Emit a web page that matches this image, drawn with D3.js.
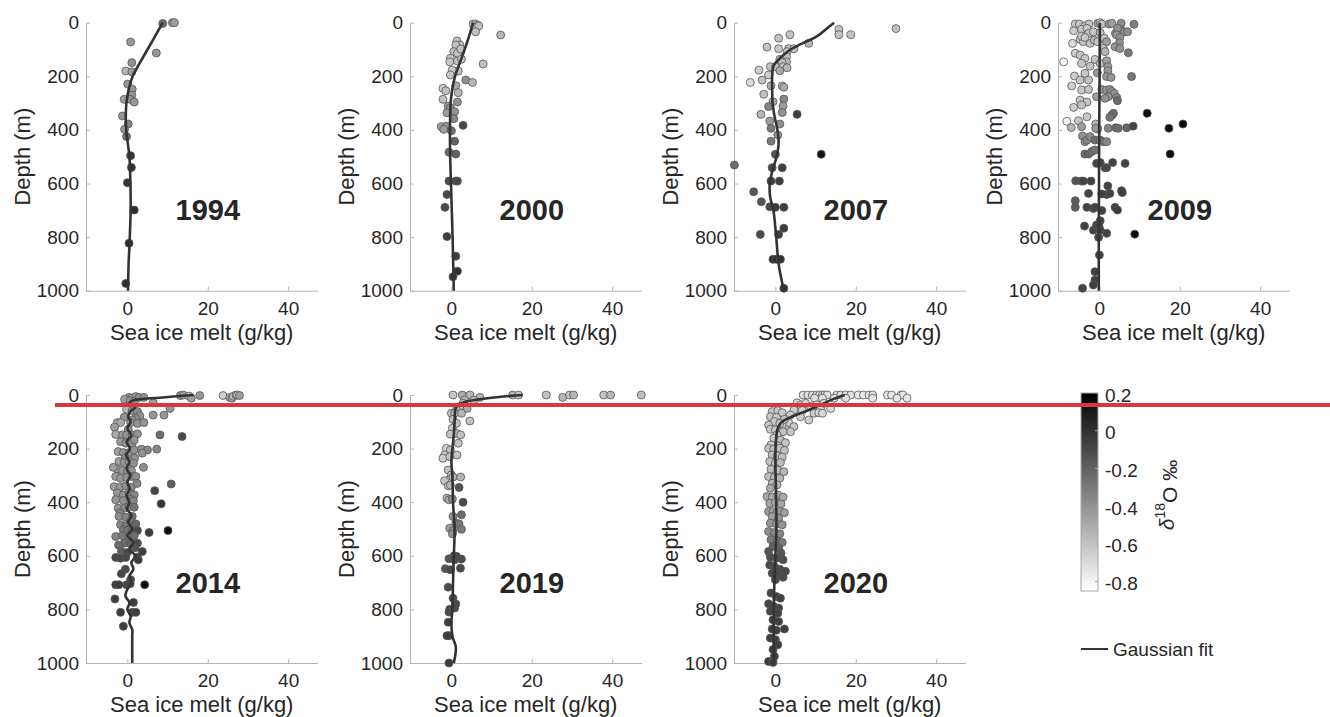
<!DOCTYPE html>
<html>
<head>
<meta charset="utf-8">
<script src="https://cdn.jsdelivr.net/npm/d3@7"></script>
<style>
  html, body { margin: 0; padding: 0; background: #fff; }
  svg { display: block; }
  text { font-family: "Liberation Sans", Arial, Helvetica, sans-serif; fill: #262626; }
</style>
</head>
<body>
<svg id="chart" width="1330" height="717"></svg>
<script>
// ---------------- DATA ----------------
const years = ["1994", "2000", "2007", "2009", "2014", "2019", "2020"];
const xTicks = [0, 20, 40];
const yTicks = [0, 200, 400, 600, 800, 1000];
const cbarTicks = [0.2, 0, -0.2, -0.4, -0.6, -0.8];
const xDomain = [-10.3, 47.3];
const yDomain = [0, 1000];
const cDomain = [-0.85, 0.2];
const redLineDepth = 37;
const xLabel = "Sea ice melt (g/kg)";
const yLabel = "Depth (m)";
const legendLabel = "Gaussian fit";

// points: [sea ice melt (g/kg), depth (m), d18O (permil)]
const pts1994 = [[8.8,3,-0.25],[11.2,0,-0.45],[11.7,0,-0.45],
[0.8,72,-0.42],[7.2,113,-0.42],[1.1,149,-0.4],[-0.4,180,-0.55],[1.1,183,-0.45],
[0.1,229,-0.42],[1.2,248,-0.42],[1.1,270,-0.42],[-0.8,286,-0.45],[0.7,286,-0.4],[1.7,296,-0.42],
[-1.2,348,-0.42],[0.2,378,-0.35],[-0.7,398,-0.42],[-0.2,425,-0.25],
[0.8,496,-0.02],[1.0,540,0.0],[0.0,597,0.0],[1.7,699,0.02],[0.4,823,0.02],[-0.4,973,0.02]];
const fit1994 = [[8.8,0],[6.9,50],[5.0,100],[3.1,150],[1.3,200],[0.3,250],[-0.25,300],[-0.4,350],[-0.3,400],[0.1,450],[0.5,500],[0.75,600],[0.8,700],[0.6,800],[0.3,900],[0.15,1000]];

const pts2000 = [[5.4,5,-0.6],[6.0,5,-0.6],[6.5,9,-0.6],[6.25,17,-0.6],[6.8,12,-0.6],[6.0,34,-0.6],
[12.25,46,-0.55],[1.4,68,-0.6],[2.1,83,-0.6],[1.1,83,-0.6],[0.6,108,-0.6],[1.5,114,-0.6],[2.3,98,-0.6],
[-0.25,133,-0.62],[-0.4,146,-0.62],[1.5,143,-0.6],[2.5,136,-0.6],[7.9,154,-0.6],[1.7,180,-0.6],[0.2,177,-0.62],[-0.25,195,-0.62],
[3.6,214,-0.4],[5.25,223,-0.55],[1.1,235,-0.5],[-2.1,245,-0.65],[-1.4,254,-0.6],[1.7,261,-0.55],
[-2.1,286,-0.6],[1.5,296,-0.4],[-0.8,311,-0.45],[-0.25,317,-0.4],[0.8,332,-0.4],[-1.1,336,-0.45],[0.6,358,-0.35],
[2.9,383,-0.1],[-2.5,388,-0.45],[-1.25,386,-0.4],[-1.9,398,-0.45],[0,403,-0.25],
[0.8,442,-0.2],[-0.6,483,-0.25],[1.1,490,-0.2],
[-0.6,591,-0.1],[1.1,591,-0.1],[1.5,591,-0.1],[-1.1,641,-0.1],[-1.6,689,-0.1],[-1.1,798,-0.05],[1.1,871,-0.05],[1.5,927,0.0],[0.4,948,-0.02]];
const fit2000 = [[5.4,0],[4.4,50],[3.3,100],[2.1,150],[0.9,200],[0.2,250],[-0.2,300],[-0.35,400],[-0.3,500],[-0.1,600],[0.1,700],[0.3,800],[0.45,900],[0.6,1000]];

const pts2007 = [[15.8,25,-0.6],[15.8,45,-0.6],[18.75,45,-0.6],[30,22,-0.6],[3.6,45,-0.6],[0.8,58,-0.6],[8.3,77,-0.55],
[-2.1,91,-0.6],[0.8,97,-0.62],[3.3,97,-0.6],[4.6,97,-0.6],[2.9,108,-0.6],[2.75,127,-0.6],[1.1,137,-0.55],[2.75,146,-0.55],[1.7,149,-0.6],
[-1.25,164,-0.6],[0,164,-0.6],[1.9,164,-0.6],[2.9,168,-0.55],[-4.1,177,-0.65],[1.1,179,-0.5],[-1.7,195,-0.65],[-3.3,214,-0.6],[-6.25,223,-0.7],
[-1.1,235,-0.5],[1.7,236,-0.6],[2.1,241,-0.5],[-2.9,267,-0.6],[2.1,285,-0.35],[-0.6,295,-0.5],[-1.7,313,-0.35],[1.9,311,-0.45],[1.7,335,-0.4],[-3.6,342,-0.55],[5.4,342,-0.05],
[-1.4,367,-0.45],[1.1,378,-0.4],[-1.1,394,-0.3],[0.6,419,-0.4],[-1.1,442,-0.3],
[11.4,491,0.12],[0,491,-0.15],[-10.2,531,-0.25],[-0.8,541,-0.1],[1.7,541,-0.05],[-1.1,591,-0.05],[1.0,591,-0.05],
[-5.4,631,-0.15],[-3.5,668,-0.15],[-1.4,687,-0.1],[0,689,-0.05],[2.1,689,-0.05],[2.1,767,-0.05],[0.8,790,-0.05],[-3.75,790,-0.1],
[-0.6,883,0.0],[0.25,883,0.0],[1.25,883,0.0],[2.1,991,0.0]];
const fit2007 = [[14.6,0],[12.5,25],[10.4,50],[6.3,80],[3.8,100],[1.3,130],[-0.4,160],[-0.8,200],[-0.8,250],[-0.7,300],[-0.2,350],[0.5,400],[0.8,450],[0.3,500],[-0.7,550],[-1.4,600],[-1.3,650],[-0.5,700],[0.2,800],[0.8,900],[2.1,1000]];

const pts2009 = [[-6.0,5,-0.62],[-5.0,5,-0.62],[-3.6,12,-0.62],[-2.6,5,-0.62],[-0.4,2,-0.45],[0.2,0,-0.62],[0.6,5,-0.6],[2.4,5,-0.4],[3.1,2,-0.45],[5.4,2,-0.38],[8.6,6,-0.32],
[-6.4,30,-0.65],[-4.4,25,-0.62],[-3.1,21,-0.62],[-2.7,40,-0.6],[-1.5,34,-0.62],[0.2,37,-0.6],[4.0,40,-0.4],[5.5,30,-0.4],[6.2,34,-0.4],[7.0,34,-0.38],[4.5,21,-0.4],
[-6.7,77,-0.7],[-4.8,62,-0.62],[-4.0,71,-0.6],[-4.4,50,-0.62],[-3.6,55,-0.62],[-2.3,77,-0.6],[-1.3,65,-0.55],[-0.4,71,-0.62],[1.2,58,-0.6],[1.8,71,-0.45],[4.3,46,-0.42],[5.1,55,-0.4],[5.0,75,-0.4],[3.9,90,-0.4],[5.1,96,-0.4],[1.0,96,-0.6],[1.4,108,-0.55],[7.2,112,-0.3],
[-8.9,146,-0.82],[-6.0,114,-0.65],[-4.8,121,-0.62],[-3.6,133,-0.62],[-4.4,152,-0.62],[-2.3,162,-0.6],[-1.1,137,-0.6],[0.2,152,-0.6],[1.8,142,-0.45],[2.1,164,-0.45],[2.1,179,-0.42],[1.8,201,-0.42],[-0.5,187,-0.42],[-3.6,189,-0.62],[-6.2,199,-0.65],[-4.8,214,-0.62],[-2.7,214,-0.6],
[-6.9,236,-0.65],[-4.4,251,-0.62],[-2.7,249,-0.6],[-4.8,289,-0.62],[-3.1,296,-0.6],[-6.4,316,-0.65],[-4.4,307,-0.6],[-0.7,276,-0.45],[0.6,249,-0.42],[1.8,251,-0.42],[2.6,249,-0.42],[3.1,257,-0.4],[3.7,264,-0.4],[4.3,279,-0.35],[4.5,291,-0.25],[2.2,276,-0.4],[1.4,282,-0.4],[2.9,204,-0.42],[8.0,201,-0.28],
[-8.1,368,-0.8],[-7.0,391,-0.55],[-5.2,366,-0.62],[-4.4,388,-0.45],[-3.1,351,-0.62],[-0.9,378,-0.55],[-0.4,396,-0.42],[-0.9,394,-0.42],[3.1,345,-0.25],[3.5,338,-0.25],[2.6,353,-0.28],[2.2,394,-0.35],[4.1,392,-0.25],[4.7,394,-0.25],[6.8,392,-0.22],[8.4,386,-0.08],
[11.9,338,0.15],[17.3,394,0.15],[20.8,378,0.15],[17.6,490,0.15],
[-4.2,423,-0.4],[-3.6,444,-0.38],[-3.1,438,-0.35],[-2.3,425,-0.38],[-1.1,438,-0.25],[0.2,438,-0.35],[1.0,444,-0.28],[1.8,444,-0.35],[-3.6,490,-0.25],[-2.7,490,-0.22],[-1.9,481,-0.25],[-1.1,475,-0.28],
[-0.7,525,-0.07],[0.2,522,-0.07],[1.4,541,-0.07],[1.8,541,-0.1],[3.3,522,-0.07],[6.4,525,-0.07],
[-5.9,590,-0.15],[-4.5,591,-0.15],[-4.0,591,-0.07],[-2.1,591,-0.07],[-2.7,637,-0.07],[1.8,641,-0.07],[2.1,609,-0.07],[0.6,639,-0.07],[2.6,637,-0.07],[5.5,627,-0.05],[5.7,634,-0.05],
[-6.0,664,-0.18],[-6.0,689,-0.18],[-3.1,689,-0.07],[-1.5,693,-0.07],[-1.1,689,-0.07],[0.6,701,-0.07],[0.2,739,-0.07],[3.9,689,-0.07],[4.5,699,-0.05],
[-3.7,759,-0.07],[-1.5,774,-0.07],[-0.7,755,-0.07],[-0.1,759,-0.07],[0.2,774,-0.07],[1.8,786,-0.07],[8.8,789,0.15],[-0.2,801,-0.07],[0.0,867,-0.07],[-1.1,929,-0.07],[-1.1,960,-0.07],[-1.5,979,-0.05],[-4.2,991,-0.07]];
const fit2009 = [[0.1,0],[0.05,200],[-0.05,400],[-0.1,600],[-0.15,800],[-0.15,1000]];

const pts2014 = [[13.2,2,-0.4],[13.9,0,-0.45],[15.3,4,-0.6],[15.9,12,-0.45],[18.0,2,-0.42],[23.8,2,-0.65],[25.5,9,-0.5],[26.0,12,-0.45],[26.4,4,-0.65],[27.0,0,-0.45],[27.4,0,-0.62],[27.9,2,-0.45],
[0.4,9,-0.4],[1.2,12,-0.55],[2.1,6,-0.42],[2.9,9,-0.4],[4.1,9,-0.4],[-0.7,16,-0.45],[0.7,21,-0.4],[1.7,25,-0.4],[6.4,29,-0.45],[10.6,50,-0.42],[6.4,75,-0.42],[9.1,75,-0.42],
[-0.2,53,-0.55],[1.2,58,-0.4],[2.5,62,-0.38],[3.1,78,-0.4],[2.1,87,-0.38],[1.2,93,-0.4],[-0.8,83,-0.4],[-2.5,103,-0.5],[-1.7,103,-0.5],[0.8,103,-0.4],[2.5,106,-0.4],[4.1,103,-0.4],
[-3.2,120,-0.45],[0.2,128,-0.4],
[-2.9,147,-0.5],[-1.2,149,-0.42],[-0.2,149,-0.4],[1.2,149,-0.4],[2.5,145,-0.4],[8.1,149,-0.25],[13.6,155,-0.1],
[-1.7,174,-0.42],[-0.4,180,-0.4],[1.2,180,-0.4],[1.7,168,-0.4],[-2.3,211,-0.45],[-1.0,215,-0.42],[0.4,215,-0.4],[1.7,205,-0.4],[3.5,202,-0.4],[5.0,205,-0.35],[7.3,202,-0.35],[3.7,217,-0.4],
[1.8,235,-0.4],[-0.5,235,-0.4],
[-2.1,248,-0.45],[-0.8,252,-0.42],[0.4,248,-0.4],[1.5,255,-0.4],[-2.5,277,-0.45],[-1.2,282,-0.42],[0,286,-0.4],[1.0,282,-0.4],[4.0,270,-0.38],[-3.5,270,-0.45],
[-2.9,304,-0.45],[-1.7,311,-0.42],[-0.2,307,-0.4],[1.2,304,-0.4],[2.1,304,-0.38],[-3.3,342,-0.45],[-1.8,344,-0.42],[-0.4,339,-0.4],[1.0,344,-0.38],[2.4,330,-0.35],[10.9,332,-0.2],
[-2.5,366,-0.42],[-1.0,373,-0.4],[0.4,364,-0.38],[1.7,373,-0.35],[6.8,357,-0.08],[-2.9,391,-0.42],[-1.0,394,-0.4],[0.8,389,-0.35],[1.5,395,-0.35],[8.4,406,-0.02],
[-2.3,422,-0.4],[-0.7,422,-0.38],[0.4,416,-0.35],[1.7,419,-0.28],[-1.8,440,-0.35],[-2.1,453,-0.38],[-0.4,456,-0.35],[1.2,453,-0.25],[0.8,470,-0.3],[-1.7,484,-0.35],[-0.4,488,-0.3],[1.0,491,-0.28],[2.1,481,-0.22],
[-1.0,503,-0.3],[0,506,-0.28],[1.2,509,-0.25],[2.5,506,-0.1],[5.4,513,-0.05],[10.1,506,0.15],[-2.9,528,-0.35],[-1.2,525,-0.3],[0.4,528,-0.28],[1.7,525,-0.25],
[-0.8,553,-0.25],[0.8,555,-0.22],[2.5,553,-0.1],[-2.2,560,-0.25],[1.9,570,-0.15],[-1.5,584,-0.2],[0,588,-0.1],[3.7,584,-0.05],[-2.9,606,-0.08],[-1.7,609,-0.08],[-0.4,606,-0.1],[2.5,605,-0.05],[2.7,615,-0.05],
[-0.5,650,-0.1],[-1.5,667,-0.08],[0.8,689,-0.08],[-2.9,708,-0.05],[-2.1,708,-0.05],[-0.2,708,-0.08],[0.7,704,-0.08],[4.3,708,0.15],[-3.1,761,-0.05],[1.5,774,-0.05],[-1.7,811,-0.05],[1.2,811,-0.05],[2.1,811,-0.05],[-1.0,863,-0.05]];
const fit2014 = [[16.5,0],[8,10],[1.5,20],[0.5,30],[2.0,45],[0.8,60],[0.2,80],[0.8,100],[0.0,125],[1.0,150],[-0.2,175],[0.6,200],[-0.3,225],[0.5,250],[-0.2,275],[0.8,300],[0.0,325],[0.6,350],[-0.2,375],[0.5,400],[-0.1,425],[1.0,450],[0.2,475],[1.2,500],[0.0,525],[1.5,550],[0.5,575],[2.0,600],[1.0,625],[1.5,650],[0.5,675],[1.0,700],[0.0,725],[-0.5,750],[0.5,775],[0.0,800],[0.8,825],[0.5,850],[1.2,875],[1.2,900],[1.2,1000]];

const pts2019 = [[0.4,0,-0.62],[2.7,0,-0.5],[4.6,0,-0.55],[7.1,9,-0.55],[15.25,0,-0.55],[16.7,0,-0.6],[23.6,0,-0.6],[27.7,9,-0.55],[29.4,0,-0.6],[30.4,0,-0.55],[37.9,0,-0.6],[39.6,0,-0.55],[47.25,0,-0.6],
[3.3,19,-0.55],[5.6,19,-0.55],[2.9,31,-0.6],[3.9,50,-0.5],[2.1,43,-0.6],[1.25,56,-0.55],[0,68,-0.6],[0.8,68,-0.55],[2.5,68,-0.55],[4.6,97,-0.6],[0.4,91,-0.6],[1.25,106,-0.6],[0.25,124,-0.62],[1.25,143,-0.55],[-0.25,146,-0.6],[2.3,149,-0.6],[1.7,180,-0.6],
[-1.25,199,-0.65],[-0.25,205,-0.6],[-1.7,224,-0.62],[-2.1,236,-0.65],[-0.4,230,-0.6],[1.4,224,-0.6],[-0.8,280,-0.6],[0,298,-0.6],[-0.6,317,-0.62],[0.4,306,-0.55],[2.3,306,-0.55],[-1.7,320,-0.62],[-0.8,339,-0.6],[-0.25,336,-0.55],[1.9,345,-0.15],
[-1.1,385,-0.55],[-0.6,391,-0.5],[0.25,388,-0.4],[2.9,400,-0.1],[2.5,447,-0.25],[0.4,453,-0.4],[1.1,478,-0.35],[1.9,481,-0.3],[-0.4,497,-0.45],[0.4,506,-0.4],[2.5,501,-0.3],[0.25,518,-0.4],
[0.7,600,-0.1],[1.25,602,-0.1],[-0.6,611,-0.15],[0.8,615,-0.1],[2.5,612,-0.1],[-1.5,648,-0.15],[-0.25,652,-0.1],[2.25,646,-0.1],[-0.8,717,-0.1],[0.4,758,-0.1],[1.1,780,-0.1],[0.8,795,-0.1],[-0.4,799,-0.1],[-0.6,810,-0.1],[-0.8,848,-0.05],[-0.6,898,-0.05],[-1.1,898,-0.05],[-0.6,1000,-0.05]];
const fit2019 = [[17.75,0],[9,12],[3,28],[1.2,45],[0.8,100],[0.6,150],[0.25,200],[0,250],[0.25,300],[0.4,400],[0.8,500],[0.6,600],[0.4,700],[0.25,800],[0,850],[0.25,900],[1.1,940],[0.6,1000]];

const pts2020 = [[6.9,0,-0.72],[8.1,0,-0.72],[9.2,0,-0.72],[10.25,0,-0.72],[11.0,0,-0.72],[11.7,0,-0.72],[12.25,0,-0.72],[12.9,0,-0.72],[15.25,0,-0.72],[16.25,0,-0.72],[17.5,0,-0.72],[18.75,0,-0.72],[20.6,0,-0.75],[21.9,0,-0.75],[23.3,0,-0.75],[24.2,0,-0.75],[27.9,0,-0.75],[28.9,0,-0.75],[31.25,0,-0.75],[31.7,0,-0.75],
[9.75,12,-0.72],[11.7,12,-0.72],[14.6,12,-0.72],[17.5,12,-0.72],[24.2,12,-0.75],[30.25,12,-0.75],[32.75,12,-0.75],
[5.4,29,-0.68],[6.25,37,-0.68],[7.5,31,-0.68],[8.75,43,-0.68],[10.25,37,-0.68],[11.25,50,-0.68],[12.1,31,-0.7],[13.75,50,-0.7],[4.6,56,-0.65],[6.7,58,-0.68],[9.6,68,-0.65],[10.8,66,-0.68],[11.7,68,-0.68],[3.75,75,-0.65],[6.25,81,-0.65],[8.3,93,-0.65],[3.3,103,-0.65],[4.6,118,-0.62],[2.5,128,-0.62],[3.75,137,-0.62],[1.25,93,-0.62],[0.8,68,-0.62],[1.7,112,-0.62],
[-0.8,62,-0.62],[0.6,58,-0.62],[1.7,66,-0.62],[-1.25,81,-0.62],[0.25,83,-0.62],[2.25,91,-0.62],[-0.25,99,-0.62],[1.1,106,-0.62],[-1.7,112,-0.62],[-1.25,128,-0.62],[0,130,-0.62],[1.9,137,-0.6],[0.4,149,-0.62],[-0.4,161,-0.62],[1.25,168,-0.6],[2.5,178,-0.6],[-1.1,186,-0.62],[0.6,190,-0.6],
[-1.7,199,-0.6],[-0.4,202,-0.6],[1.1,199,-0.6],[2.25,207,-0.6],[-0.8,224,-0.6],[0.4,227,-0.6],[1.7,232,-0.6],[-1.4,248,-0.6],[0,255,-0.6],[1.25,252,-0.58],[-1.1,277,-0.58],[0.6,280,-0.58],[2.1,286,-0.55],[-1.7,304,-0.58],[-0.25,307,-0.55],[1.1,311,-0.55],[-0.8,329,-0.55],[0.4,335,-0.55],[-1.25,348,-0.5],
[-2.1,379,-0.5],[-0.8,381,-0.5],[0.6,373,-0.5],[1.9,381,-0.5],[-1.4,404,-0.48],[0,401,-0.48],[1.4,406,-0.48],[-1.7,435,-0.45],[-0.6,435,-0.45],[0.4,439,-0.45],[1.25,435,-0.45],[2.25,439,-0.45],[-0.8,453,-0.45],[0.8,460,-0.42],[-1.25,478,-0.42],[0.25,481,-0.42],[1.7,484,-0.4],
[-1.7,509,-0.38],[-0.25,513,-0.35],[1.1,518,-0.35],[-1.1,540,-0.3],[0.4,543,-0.3],[1.7,550,-0.3],[-0.6,565,-0.2],[0.8,571,-0.2],[-1.7,584,-0.15],[1.4,590,-0.15],[-1.25,605,-0.12],[0.25,609,-0.12],[1.9,615,-0.12],[-1.4,634,-0.1],[-0.25,640,-0.1],[1.1,650,-0.1],[2.5,658,-0.1],[-0.8,665,-0.1],[0.6,671,-0.1],[1.9,680,-0.1],[0,689,-0.1],
[-1.1,739,-0.08],[0.25,752,-0.08],[1.25,758,-0.08],[-1.7,779,-0.08],[-0.4,789,-0.08],[0.8,795,-0.08],[-1.25,807,-0.08],[0.6,814,-0.08],[-0.6,839,-0.06],[0.8,845,-0.06],[-0.8,873,-0.06],[0.25,878,-0.06],[2.25,873,-0.06],[-1.25,907,-0.05],[0,913,-0.05],[0.6,932,-0.05],[-0.6,950,-0.05],[-0.25,975,-0.05],[-1.7,994,-0.05],[-0.6,998,-0.05]];
const fit2020 = [[17.25,0],[13.75,19],[11.25,37],[8.75,53],[6.25,68],[3.75,83],[1.7,99],[0.6,124],[0.1,180],[0,255],[0.2,400],[0.25,500],[0,600],[-0.25,700],[-0.4,800],[-0.4,1000]];

// ---------------- LAYOUT ----------------
const panels = [
  {year: years[0], pts: pts1994, fit: fit1994, left: 86,  top: 22.7},
  {year: years[1], pts: pts2000, fit: fit2000, left: 410, top: 22.7},
  {year: years[2], pts: pts2007, fit: fit2007, left: 734, top: 22.7},
  {year: years[3], pts: pts2009, fit: fit2009, left: 1058, top: 22.7},
  {year: years[4], pts: pts2014, fit: fit2014, left: 86,  top: 395},
  {year: years[5], pts: pts2019, fit: fit2019, left: 410, top: 395},
  {year: years[6], pts: pts2020, fit: fit2020, left: 734, top: 395}
];
const PW = 231.5, PH = 268;
const axisColor = "#b4b4b4";
const textColor = "#262626";

const svg = d3.select("#chart");
const color = d3.scaleLinear().domain(cDomain).range(["#ffffff", "#000000"]).clamp(true);

let bottomY = null;
panels.forEach((p, i) => {
  const x = d3.scaleLinear().domain(xDomain).range([0, PW]);
  const y = d3.scaleLinear().domain(yDomain).range([0, PH]);
  if (i === 4) bottomY = {y, top: p.top};
  const g = svg.append("g").attr("transform", `translate(${p.left},${p.top})`);

  // axes
  const ya = g.append("g").call(d3.axisLeft(y).tickValues(yTicks).tickFormat(d3.format("d"))
    .tickSizeInner(-4).tickSizeOuter(0).tickPadding(7));
  const xa = g.append("g").attr("transform", `translate(0,${PH})`)
    .call(d3.axisBottom(x).tickValues(xTicks).tickFormat(d3.format("d"))
      .tickSizeInner(-4).tickSizeOuter(0).tickPadding(11));
  [ya, xa].forEach(a => {
    a.select(".domain").attr("stroke", axisColor).attr("stroke-width", 1);
    a.selectAll(".tick line").attr("stroke", axisColor);
    a.selectAll(".tick text").attr("fill", textColor).style("font-size", "19px")
      .style("font-family", '"Liberation Sans", Arial, Helvetica, sans-serif');
  });

  // axis labels
  g.append("text").attr("x", PW / 2).attr("y", PH + 49).attr("text-anchor", "middle")
    .style("font-size", "22px").text(xLabel);
  g.append("text").attr("transform", `translate(-64,${PH / 2}) rotate(-90)`)
    .attr("text-anchor", "middle").attr("dominant-baseline", "central")
    .style("font-size", "22px").text(yLabel);

  // points
  g.append("g").selectAll("circle").data(p.pts).join("circle")
    .attr("cx", d => x(d[0])).attr("cy", d => y(d[1])).attr("r", 4)
    .attr("fill", d => color(d[2])).attr("stroke", "#555").attr("stroke-width", 0.8);

  // fit line
  const line = d3.line().x(d => x(d[0])).y(d => y(d[1])).curve(d3.curveCatmullRom.alpha(0.5));
  g.append("path").datum(p.fit).attr("d", line).attr("fill", "none")
    .attr("stroke", "#333").attr("stroke-width", 2.6);

  // year label
  g.append("text").attr("x", x(20)).attr("y", y(700)).attr("text-anchor", "middle")
    .attr("dominant-baseline", "central").style("font-size", "29px").style("font-weight", "bold")
    .attr("fill", "#000").text(p.year);
});

// ---------------- COLORBAR ----------------
const cb = {x: 1081, y: 393, w: 17, h: 198};
const cy = d3.scaleLinear().domain(cDomain).range([cb.y + cb.h, cb.y]);
const defs = svg.append("defs");
const grad = defs.append("linearGradient").attr("id", "cbgrad").attr("x1", 0).attr("y1", 1).attr("x2", 0).attr("y2", 0);
d3.range(0, 1.0001, 0.1).forEach(t => {
  grad.append("stop").attr("offset", t).attr("stop-color", color(cDomain[0] + t * (cDomain[1] - cDomain[0])));
});
svg.append("rect").attr("x", cb.x).attr("y", cb.y).attr("width", cb.w).attr("height", cb.h)
  .attr("fill", "url(#cbgrad)").attr("stroke", "#a8a8a8").attr("stroke-width", 1);
const cbt = svg.append("g");
cbt.selectAll("line").data(cbarTicks).join("line")
  .attr("x1", cb.x + cb.w - 3).attr("x2", cb.x + cb.w).attr("y1", d => cy(d)).attr("y2", d => cy(d))
  .attr("stroke", "#a8a8a8");
cbt.selectAll("text").data(cbarTicks).join("text")
  .attr("x", cb.x + cb.w + 7).attr("y", d => cy(d) + 2).attr("dominant-baseline", "central")
  .style("font-size", "19px").text(d => d === 0 ? "0" : d3.format(".1f")(d).replace("−", "-"));
const cl = svg.append("text").attr("transform", `translate(1166,495) rotate(-90)`)
  .attr("text-anchor", "middle").attr("dominant-baseline", "central").style("font-size", "21px");
cl.append("tspan").style("font-style", "italic").text("δ");
cl.append("tspan").attr("dy", "-0.45em").style("font-size", "14px").text("18");
cl.append("tspan").attr("dy", "0.45em").text("O ‰");

// ---------------- LEGEND ----------------
svg.append("line").attr("x1", 1081).attr("x2", 1108).attr("y1", 649).attr("y2", 649)
  .attr("stroke", "#333").attr("stroke-width", 2);
svg.append("text").attr("x", 1113).attr("y", 649).attr("dominant-baseline", "central")
  .style("font-size", "19px").text(legendLabel);

// ---------------- RED ANNOTATION LINE ----------------
svg.append("line").attr("x1", 55).attr("x2", 1330)
  .attr("y1", bottomY.top + bottomY.y(redLineDepth)).attr("y2", bottomY.top + bottomY.y(redLineDepth))
  .attr("stroke", "#d9363e").attr("stroke-width", 4);
</script>
</body>
</html>
